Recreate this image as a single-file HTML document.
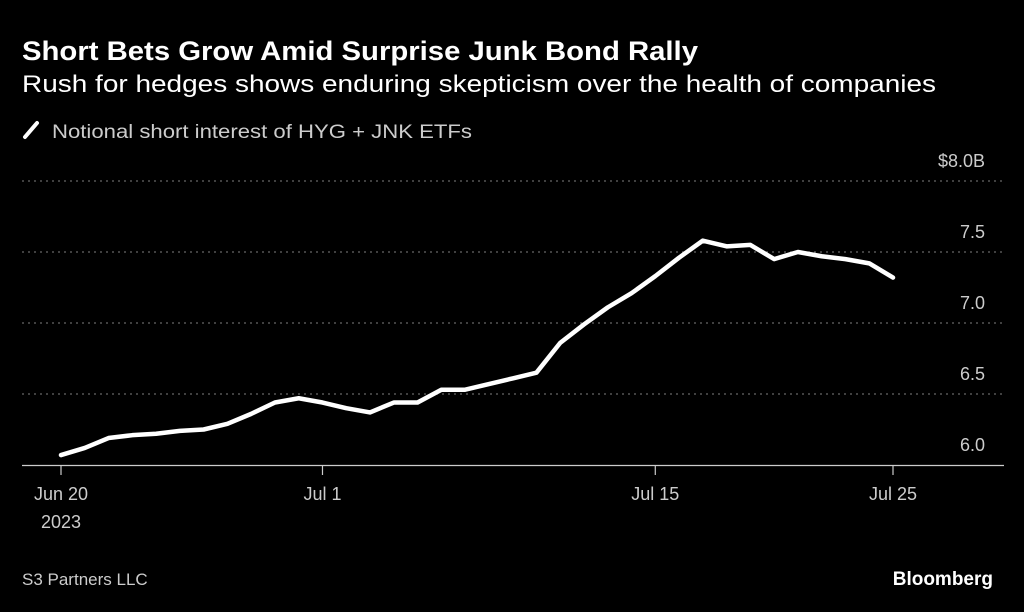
<!DOCTYPE html>
<html><head><meta charset="utf-8"><style>
html,body{margin:0;padding:0;background:#000;}
svg{display:block;font-family:"Liberation Sans",sans-serif;}
</style></head><body>
<svg id="chart" width="1024" height="612" viewBox="0 0 1024 612">
<rect width="1024" height="612" fill="#000"/>
<text x="22" y="60" fill="#fff" font-size="27" font-weight="bold" textLength="676" lengthAdjust="spacingAndGlyphs">Short Bets Grow Amid Surprise Junk Bond Rally</text>
<text x="22" y="92" fill="#fff" font-size="24" textLength="914" lengthAdjust="spacingAndGlyphs">Rush for hedges shows enduring skepticism over the health of companies</text>
<line x1="25" y1="137" x2="37" y2="123" stroke="#fff" stroke-width="4" stroke-linecap="round"/>
<text x="52" y="138" fill="#ccc" font-size="19" textLength="420" lengthAdjust="spacingAndGlyphs">Notional short interest of HYG + JNK ETFs</text>
<g id="grid"></g>
<g id="xaxis"></g>
<g id="series"></g>
<text x="22" y="585" fill="#ccc" font-size="17">S3 Partners LLC</text>
<text x="993" y="585" fill="#fff" font-size="19" font-weight="bold" text-anchor="end">Bloomberg</text>
</svg>
<script>
const days = [0,1,2,3,4,5,6,7,8,9,10,11,12,13,14,15,16,17,18,19,20,21,22,23,24,25,26,27,28,29,30,31,32,33,34,35];
const values = [6.07,6.12,6.19,6.21,6.22,6.24,6.25,6.29,6.36,6.44,6.47,6.44,6.40,6.37,6.44,6.44,6.53,6.53,6.57,6.61,6.65,6.86,6.99,7.11,7.21,7.33,7.46,7.58,7.54,7.55,7.45,7.50,7.47,7.45,7.42,7.32];
const yTicks = [6.0,6.5,7.0,7.5,8.0];
const yTickLabels = ["6.0","6.5","7.0","7.5","$8.0B"];
const xTickDays = [0,11,25,35];
const xTickLabels = ["Jun 20","Jul 1","Jul 15","Jul 25"];

const NS="http://www.w3.org/2000/svg";
const x = d => 61 + d*(893-61)/35;
const y = v => 465 - (v-6)*(465-181)/2;
function mk(tag, attrs, parent){const e=document.createElementNS(NS,tag);for(const k in attrs)e.setAttribute(k,attrs[k]);parent.appendChild(e);return e;}
const grid=document.getElementById('grid'), xa=document.getElementById('xaxis'), ser=document.getElementById('series');
yTicks.forEach((t,i)=>{
  if(i>0){
    const l=mk('line',{x1:22,x2:1004,y1:y(t),y2:y(t),stroke:'#666','stroke-width':1.3,'stroke-dasharray':'2,4'},grid);
    
    
  }
  const tx=mk('text',{x:985,y:y(t)-14,fill:'#ccc','font-size':18,'text-anchor':'end'},grid);
  tx.textContent=yTickLabels[i];
  
  
});
const base=mk('line',{x1:22,x2:1004,y1:465.5,y2:465.5,stroke:'#ccc','stroke-width':1.2},xa);


xTickDays.forEach((d,i)=>{
  const tk=mk('line',{x1:x(d),x2:x(d),y1:465,y2:475,stroke:'#ccc','stroke-width':1.2},xa);
  
  
  const tx=mk('text',{x:x(d),y:500,fill:'#ccc','font-size':18,'text-anchor':'middle'},xa);
  tx.textContent=xTickLabels[i];
  
  
});
const yr=mk('text',{x:x(0),y:528,fill:'#ccc','font-size':18,'text-anchor':'middle'},xa);
yr.textContent='2023';


const p=mk('polyline',{points:days.map((d,i)=>x(d)+','+y(values[i])).join(' '),fill:'none',stroke:'#fff','stroke-width':4.5,'stroke-linejoin':'round','stroke-linecap':'round'},ser);


</script>
</body></html>
